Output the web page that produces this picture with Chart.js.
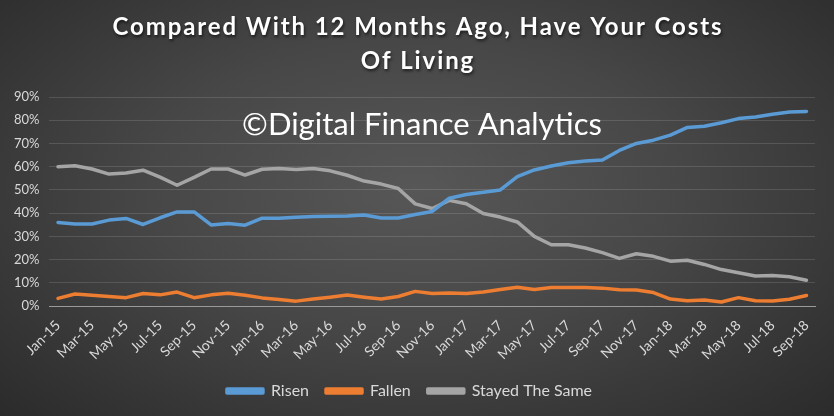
<!DOCTYPE html>
<html>
<head>
<meta charset="utf-8">
<script src="https://cdn.jsdelivr.net/npm/chart.js@4.4.1/dist/chart.umd.min.js"></script>
<style>
  html, body { margin: 0; padding: 0; }
  body { width: 834px; height: 416px; overflow: hidden; }
  #wrap {
    width: 834px; height: 416px; position: relative;
    background: radial-gradient(ellipse at 50% 45%, #575757 0%, #474747 45%, #353535 80%, #2b2b2b 100%);
  }
</style>
</head>
<body>
<div id="wrap"><canvas id="myChart" width="834" height="416"></canvas></div>
<script>
// months Jan-15 .. Sep-18
const months = ["Jan-15","Feb-15","Mar-15","Apr-15","May-15","Jun-15","Jul-15","Aug-15","Sep-15","Oct-15","Nov-15","Dec-15",
  "Jan-16","Feb-16","Mar-16","Apr-16","May-16","Jun-16","Jul-16","Aug-16","Sep-16","Oct-16","Nov-16","Dec-16",
  "Jan-17","Feb-17","Mar-17","Apr-17","May-17","Jun-17","Jul-17","Aug-17","Sep-17","Oct-17","Nov-17","Dec-17",
  "Jan-18","Feb-18","Mar-18","Apr-18","May-18","Jun-18","Jul-18","Aug-18","Sep-18"];

const risen = [36, 35.3, 35.3, 37, 37.7, 35.1, 38, 40.5, 40.5, 34.9, 35.5, 34.8,
  37.8, 37.8, 38.2, 38.5, 38.6, 38.8, 39.2, 37.9, 37.9, 39.4, 40.7, 46.4,
  48, 49, 50, 55.7, 58.6, 60.3, 61.7, 62.4, 62.9, 67, 70, 71.4,
  73.6, 76.9, 77.4, 78.9, 80.7, 81.4, 82.6, 83.5, 83.8];

const fallen = [3.3, 5.2, 4.6, 4.1, 3.6, 5.4, 4.8, 6.0, 3.6, 4.8, 5.5, 4.6,
  3.5, 2.8, 2.1, 3.0, 3.8, 4.7, 3.8, 3.0, 4.1, 6.3, 5.4, 5.6,
  5.4, 6.0, 7.1, 8.1, 7.1, 8.0, 8.0, 8.0, 7.7, 7.0, 6.9, 5.8,
  3.0, 2.3, 2.6, 1.7, 3.6, 2.3, 2.2, 2.9, 4.5];

const stayed = [60, 60.4, 59, 56.8, 57.3, 58.5, 55.5, 52, 55.4, 59, 59, 56.4,
  58.9, 59.2, 58.8, 59.2, 58.2, 56.3, 53.8, 52.5, 50.6, 44, 42, 45.5,
  44, 39.8, 38.3, 36.2, 30, 26.4, 26.4, 25, 23, 20.5, 22.5, 21.4,
  19.3, 19.7, 17.9, 15.7, 14.3, 12.9, 13.1, 12.6, 11.1];

const seriesNames = ["Risen", "Fallen", "Stayed The Same"];
const seriesColors = ["#5b9bd5", "#ed7d31", "#a5a5a5"];
const titleLines = ["Compared With 12 Months Ago, Have Your Costs", "Of Living"];

const FONT = "Lato, 'Open Sans', sans-serif";
const TXT = "#d9d9d9";

// title (spaced letters + shadow) and the watermark
const overlay = {
  id: 'overlay',
  afterDatasetsDraw(chart) {
    const ctx = chart.ctx;
    ctx.save();
    ctx.font = "31px " + FONT;
    ctx.fillStyle = "#ffffff";
    ctx.textAlign = "center";
    ctx.textBaseline = "middle";
    ctx.fillText("\u00A9Digital Finance Analytics", 422, 125);
    ctx.restore();
  },
  afterDraw(chart) {
    const ctx = chart.ctx;
    ctx.save();
    ctx.font = "bold 24px " + FONT;
    ctx.letterSpacing = "1.9px";
    ctx.fillStyle = "#ffffff";
    ctx.textAlign = "center";
    ctx.textBaseline = "middle";
    ctx.shadowColor = "rgba(0,0,0,0.6)";
    ctx.shadowBlur = 3;
    ctx.shadowOffsetX = 1;
    ctx.shadowOffsetY = 2;
    ctx.fillText(titleLines[0], 418, 27);
    ctx.fillText(titleLines[1], 418, 61);
    ctx.restore();
  }
};

function makeSet(i, vals) {
  return {
    label: seriesNames[i],
    data: vals,
    borderColor: seriesColors[i],
    backgroundColor: seriesColors[i],
    borderWidth: 3.5,
    pointRadius: 0,
    tension: 0,
    borderCapStyle: 'round',
    borderJoinStyle: 'round'
  };
}

const config = {
  type: 'line',
  data: {
    labels: months,
    datasets: [makeSet(0, risen), makeSet(1, fallen), makeSet(2, stayed)]
  },
  options: {
    responsive: false,
    animation: false,
    layout: { padding: { left: 4, right: 19, top: 97, bottom: 7 } },
    plugins: {
      title: { display: false },
      legend: {
        position: 'bottom',
        labels: {
          color: TXT,
          font: { family: FONT, size: 16 },
          boxWidth: 36,
          boxHeight: 4,
          padding: 17
        }
      },
      tooltip: { enabled: false }
    },
    scales: {
      x: {
        offset: true,
        grid: { display: false },
        border: { display: true, color: "#9a9a9a", width: 1 },
        ticks: {
          color: TXT,
          font: { family: FONT, size: 14 },
          autoSkip: false,
          maxRotation: 45,
          minRotation: 45,
          callback: function (v, i) { return i % 2 === 0 ? months[i] : ''; }
        }
      },
      y: {
        min: 0,
        max: 90,
        border: { display: false },
        grid: {
          color: (c) => c.tick.value === 0 ? "#9a9a9a" : "rgba(255,255,255,0.13)",
          drawTicks: false
        },
        ticks: {
          stepSize: 10,
          color: TXT,
          font: { family: FONT, size: 13 },
          padding: 10,
          callback: (v) => v + "%"
        }
      }
    }
  },
  plugins: [overlay]
};

const myChart = new Chart(document.getElementById('myChart'), config);
</script>
</body>
</html>
